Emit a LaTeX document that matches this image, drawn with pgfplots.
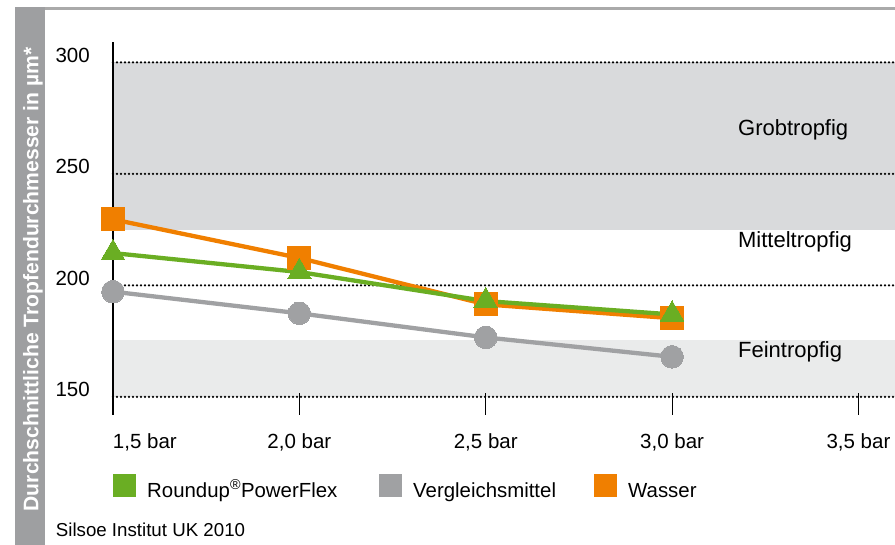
\documentclass[border=0pt]{standalone}
\usepackage{fontspec}
\setmainfont{Liberation Sans}
\usepackage{pgfplots}
\pgfplotsset{compat=1.18}
\definecolor{cgreen}{RGB}{106,174,35}
\definecolor{corange}{RGB}{240,127,0}
\definecolor{cgray}{RGB}{160,161,163}
\definecolor{bandA}{RGB}{217,218,220}
\definecolor{bandB}{RGB}{234,235,235}
\definecolor{strip}{RGB}{158,159,161}
\definecolor{topline}{RGB}{170,170,170}
\begin{document}
\begin{tikzpicture}
\begin{axis}[
  set layers,
  scale only axis, width=782pt, height=373pt,
  at={(0pt,0pt)}, anchor=south west,
  xmin=1.5, xmax=3.598, ymin=141.93, ymax=309.1,
  axis x line*=bottom, axis y line*=left,
  x axis line style={draw=none,-},
  y axis line style={line width=1.2pt,black,-},
  xtick={1.5,2,2.5,3,3.5},
  xticklabels={\makebox[0pt][l]{1,5 bar},{2,0 bar},{2,5 bar},{3,0 bar},{3,5 bar}},
  ytick={150,200,250,300},
  tick align=inside,
  major tick length=22pt,
  xtick style={line width=1.2pt,black},
  ytick style={draw=none},
  ymajorgrids,
  major grid style={black, line width=2.5pt, line cap=round, dash pattern=on 0pt off 4pt},
  ticklabel style={font=\fontsize{20.5}{24}\selectfont, inner sep=0pt},
  /pgf/number format/assume math mode=true,
  xticklabel style={anchor=base, yshift=-33.3pt},
  yticklabel style={anchor=base east, xshift=-23pt},
  legend columns=3,
  legend image code/.code={\fill[#1, draw=none] (0pt,0pt) rectangle (23pt,23pt);},
  legend style={at={(0,-0.1582)}, anchor=north west, draw=none, fill=none,
    inner sep=0pt, font=\fontsize{20.4}{24}\selectfont,
    nodes={inner sep=0pt, anchor=base west},
    /tikz/every odd column/.style={column sep=11pt}},
  legend cell align=left,
]
\addplot[on layer=axis background, fill=bandA, draw=none, forget plot]
  coordinates {(1.5,225) (3.598,225) (3.598,300) (1.5,300)};
\addplot[on layer=axis background, fill=bandB, draw=none, forget plot]
  coordinates {(1.5,150) (3.598,150) (3.598,175.5) (1.5,175.5)};

\addlegendimage{draw=none, fill=cgreen}
\addlegendentry{\makebox[232pt][l]{Roundup\textsuperscript{®}PowerFlex}}
\addlegendimage{draw=none, fill=cgray}
\addlegendentry{\makebox[181pt][l]{Vergleichsmittel}}
\addlegendimage{draw=none, fill=corange}
\addlegendentry{Wasser}

\addplot[cgray, line width=4.3pt, mark=*, mark size=11.3pt, mark options={line width=0pt}, forget plot]
  coordinates {(1.5,197.2) (2,187.5) (2.5,176.7) (3,168)};
\addplot[corange, line width=4.3pt, mark=square*, mark size=11.5pt, mark options={line width=0pt}, forget plot]
  coordinates {(1.5,229.6) (2,212.3) (2.5,191.5) (3,185.3)};
\addplot[cgreen, line width=4.3pt, mark=triangle*, mark size=13.7pt, mark options={line width=0pt}, forget plot]
  coordinates {(1.5,214.5) (2,206) (2.5,193) (3,187)};

\node[anchor=base west, inner sep=0pt, font=\fontsize{22}{26}\selectfont] at (axis cs:3.1767,267.4) {Grobtropfig};
\node[anchor=base west, inner sep=0pt, font=\fontsize{22}{26}\selectfont] at (axis cs:3.1767,216.9) {Mitteltropfig};
\node[anchor=base west, inner sep=0pt, font=\fontsize{22}{26}\selectfont] at (axis cs:3.1767,167.7) {Feintropfig};
\end{axis}
\fill[strip] (-98pt,-130pt) rectangle (-68pt,407.7pt);
\draw[topline, line width=2.5pt] (-68pt,406.3pt) -- (782pt,406.3pt);
\node[rotate=90, anchor=base, text=white, inner sep=0pt, font=\bfseries\fontsize{21.1}{25}\selectfont] at (-74.7pt,135.5pt) {Durchschnittliche Tropfendurchmesser in µm*};
\node[anchor=base west, inner sep=0pt, font=\fontsize{18.7}{22}\selectfont] at (-57.3pt,-121.7pt) {Silsoe Institut UK 2010};
\pgfresetboundingbox
\path[use as bounding box] (-113pt,-130pt) rectangle (782pt,415pt);
\end{tikzpicture}
\end{document}
